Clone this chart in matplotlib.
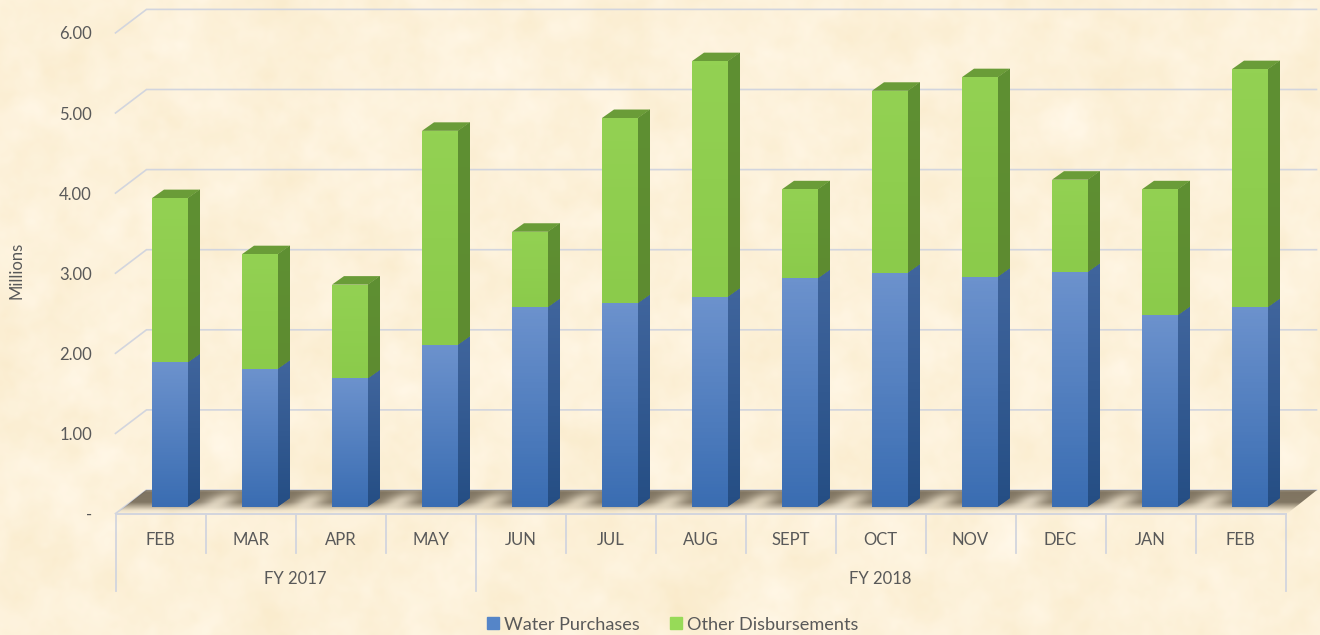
import numpy as np
import matplotlib
matplotlib.use("Agg")
import matplotlib.pyplot as plt
from matplotlib.colors import LinearSegmentedColormap, to_rgb
from matplotlib.patches import Patch, Polygon
from matplotlib.transforms import Affine2D

months = ["FEB", "MAR", "APR", "MAY", "JUN", "JUL", "AUG", "SEPT", "OCT", "NOV", "DEC", "JAN", "FEB"]
fiscal_years = ["FY 2017", "FY 2018"]
fiscal_counts = [4, 9]
water_purchases = [1.80, 1.72, 1.60, 2.02, 2.49, 2.54, 2.62, 2.85, 2.92, 2.87, 2.93, 2.39, 2.49]
other_disbursements = [2.05, 1.43, 1.17, 2.67, 0.94, 2.31, 2.94, 1.11, 2.27, 2.49, 1.15, 1.57, 2.97]
y_ticks = [0, 1, 2, 3, 4, 5, 6]
y_tick_labels = ["-", "1.00", "2.00", "3.00", "4.00", "5.00", "6.00"]

W, H = 1320, 635
TEXT = "#595959"
LINE = "#D2D5DE"
plt.rcParams["font.family"] = ["Lato", "DejaVu Sans"]

fig = plt.figure(figsize=(W / 100, H / 100), dpi=100)

# parchment backdrop
bg = fig.add_axes([0, 0, 1, 1], zorder=0)
bg.set_axis_off()
rng = np.random.default_rng(7)
def blotch(sigma):
    fx = np.fft.fftfreq(W)[None, :]
    fy = np.fft.fftfreq(H)[:, None]
    n = np.fft.fft2(rng.standard_normal((H, W)))
    n = np.real(np.fft.ifft2(n * np.exp(-2 * (np.pi * sigma) ** 2 * (fx ** 2 + fy ** 2))))
    return n / n.std()
tex = 0.45 * blotch(16) + 0.4 * blotch(7) + 0.15 * blotch(2.5)
base = np.array([253.0, 241.5, 218.0])
amp = np.array([1.2, 2.4, 5.5])
img = np.clip(base + tex[..., None] * amp, 0, 255).astype(np.uint8)
bg.imshow(img, aspect="auto", interpolation="bilinear")

# plot box is the chart's front plane
LEFT, RIGHT, ZERO, TOP = 115.5, 1285.5, 513.5, 32.9
ax = fig.add_axes([LEFT / W, 1 - ZERO / H, (RIGHT - LEFT) / W, (ZERO - TOP) / H], zorder=1)
ax.patch.set_alpha(0)
PX_X = (RIGHT - LEFT) / 13
PX_Y = (ZERO - TOP) / 6
x = np.arange(len(months))
water = np.array(water_purchases)
other = np.array(other_disbursements)

# back wall gridlines and their diagonal returns
wall_dx, wall_dy = 31 / PX_X, 23.5 / PX_Y
for v in y_ticks:
    ax.plot([-0.5, -0.5 + wall_dx, 12.5 + wall_dx], [v, v + wall_dy, v + wall_dy],
            color=LINE, lw=1.2, clip_on=False, zorder=1, solid_joinstyle="miter")

# floor shadow: dark at the back, fading forward, with light patches in the gaps
fx_px = np.arange(115.0, 1320.0, 1.0)
fy_px = np.arange(490.0, 514.0, 0.5)
gx, gy = np.meshgrid(fx_px, fy_px)
alpha = np.interp(gy, [490, 492, 502, 510, 513.5], [0.62, 0.80, 0.78, 0.10, 0.0])
light = np.zeros_like(gx)
for k in range(12):
    xc = 216 + 90 * k + (504 - gy) * 1.1
    light = np.maximum(light, np.exp(-((gx - xc) / 15.0) ** 2 - ((gy - 502) / 10.0) ** 2))
alpha = alpha * (1 - 0.7 * light)
fl = np.zeros(gx.shape + (4,))
fl[..., :3] = to_rgb("#5F5442")
fl[..., 3] = alpha
to_dx = lambda p: (p - LEFT) / PX_X - 0.5
to_dy = lambda p: (ZERO - p) / PX_Y
floor_im = ax.imshow(fl, extent=(to_dx(115), to_dx(1320), to_dy(514), to_dy(490)), aspect="auto", zorder=2,
                     origin="upper", interpolation="bilinear")
floor_poly = Polygon([(to_dx(117), to_dy(513)), (to_dx(146), to_dy(490)),
                      (to_dx(1317), to_dy(490)), (to_dx(1288), to_dy(513))],
                     transform=ax.transData, fc="none", ec="none", clip_on=False)
ax.add_patch(floor_poly)
floor_im.set_clip_box(fig.bbox)
floor_im.set_clip_path(floor_poly)

# bars sit a little behind the front plane
tr = ax.transData + Affine2D().translate(9.5, 7)
BAR_W = 36 / PX_X
dep_x, dep_y = 12 / PX_X, 8.5 / PX_Y

def vgrad(top, bottom):
    return LinearSegmentedColormap.from_list("g", [top, bottom])

def fill_grad(patch, ext, top, bottom, z):
    im = ax.imshow(np.linspace(0, 1, 64)[:, None], cmap=vgrad(top, bottom), extent=ext,
                   aspect="auto", origin="upper", transform=tr, zorder=z, vmin=0, vmax=1)
    im.set_clip_path(patch)

def side(i, y0, y1, top, bottom):
    xr = x[i] + BAR_W / 2
    p = Polygon([(xr, y0), (xr + dep_x, y0 + dep_y), (xr + dep_x, y1 + dep_y), (xr, y1)],
                transform=tr, fc=bottom, ec="none", zorder=3)
    ax.add_patch(p)
    fill_grad(p, (xr, xr + dep_x, y0, y1 + dep_y), top, bottom, 3.1)

blue_bars = ax.bar(x, water, BAR_W, color="#4F7DBE", transform=tr, zorder=4, label="Water Purchases", lw=0)
green_bars = ax.bar(x, other, BAR_W, bottom=water, color="#92D050", transform=tr, zorder=4,
                    label="Other Disbursements", lw=0)
for i in x:
    total = water[i] + other[i]
    side(i, 0, water[i], "#40659D", "#254E84")
    side(i, water[i], total, "#5F9033", "#5D8B30")
    xl, xr = x[i] - BAR_W / 2, x[i] + BAR_W / 2
    ax.add_patch(Polygon([(xl, total), (xr, total), (xr + dep_x, total + dep_y), (xl + dep_x, total + dep_y)],
                         transform=tr, fc="#6A9C38", ec="none", zorder=3))
    fill_grad(blue_bars[i], (xl, xr, 0, water[i]), "#6C92CD", "#3A6DB2", 4.2)
    fill_grad(green_bars[i], (xl, xr, water[i], total), "#93D153", "#8BCB4B", 4.2)

ax.set_xlim(-0.5, 12.5)
ax.set_ylim(0, 6)
for s in ["top", "right", "left"]:
    ax.spines[s].set_visible(False)
ax.spines["bottom"].set_color(LINE)
ax.spines["bottom"].set_linewidth(1.4)
ax.set_yticks(y_ticks, y_tick_labels)
ax.set_xticks(x, months)
ax.tick_params(axis="both", length=0, colors=TEXT, labelsize=12)
ax.tick_params(axis="x", pad=13.3)
ax.tick_params(axis="y", pad=17)
ax.set_ylabel("Millions", fontsize=12, color=TEXT)
ax.yaxis.set_label_coords((25 - LEFT) / (RIGHT - LEFT), (ZERO - 270) / (ZERO - TOP))

# multi-level category axis
btr = ax.get_xaxis_transform()
short = -39 / (ZERO - TOP)
long_ = -77 / (ZERO - TOP)
edges = np.cumsum([0] + fiscal_counts) - 0.5
for e in np.arange(-0.5, 13):
    ax.plot([e, e], [0, long_ if e in edges else short], transform=btr, color=LINE, lw=1.3, clip_on=False)
for k, name in enumerate(fiscal_years):
    ax.text((edges[k] + edges[k + 1]) / 2, -65 / (ZERO - TOP), name, transform=btr,
            ha="center", va="center", color=TEXT, fontsize=12)

handles = [Patch(color="#5585C8", label="Water Purchases"), Patch(color="#97DA58", label="Other Disbursements")]
fig.legend(handles=handles, loc="center", bbox_to_anchor=(672.5 / W, 1 - 624.5 / H), ncol=2, frameon=False,
           fontsize=13.1, labelcolor=TEXT, handlelength=0.68, handleheight=0.68, handletextpad=0.25,
           columnspacing=1.65, borderpad=0, borderaxespad=0)

fig.savefig("out.png", dpi=100)
